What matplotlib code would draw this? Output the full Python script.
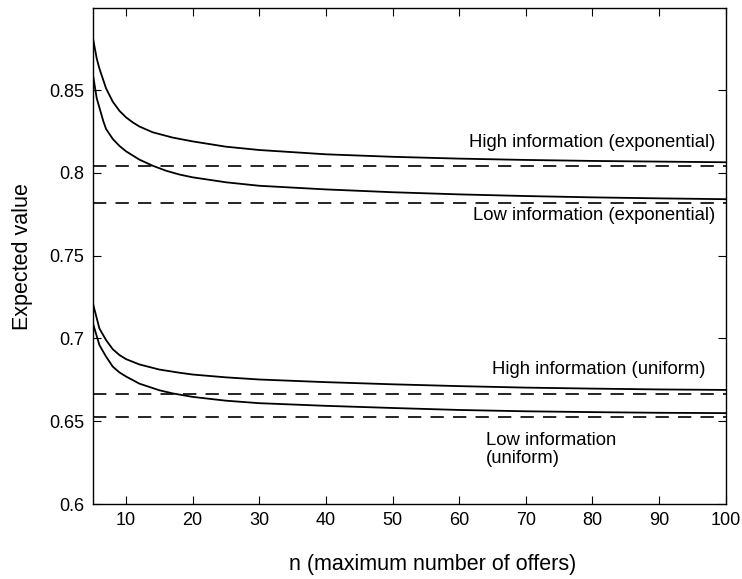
import matplotlib.pyplot as plt

plt.rcParams['font.family'] = ['Liberation Sans', 'DejaVu Sans']

# values
n_hi_exp = [5, 5.6, 6, 7, 8, 9, 10, 11, 12, 14, 17, 20, 25, 30, 40, 50, 60, 70, 80, 90, 100]
hi_exp = [0.882, 0.869, 0.863, 0.851, 0.843, 0.8375, 0.8335, 0.8305, 0.828, 0.8245, 0.8213,
          0.819, 0.8158, 0.8138, 0.8112, 0.8097, 0.8086, 0.8078, 0.8072, 0.8068, 0.8064]

n_lo_exp = [5, 5.6, 6.6, 7, 8, 9, 10, 12, 14, 16, 18, 20, 25, 30, 40, 50, 60, 70, 80, 90, 100]
lo_exp = [0.860, 0.845, 0.831, 0.8265, 0.8205, 0.8163, 0.813, 0.808, 0.8043, 0.8013, 0.799,
          0.7973, 0.7943, 0.7922, 0.7900, 0.7883, 0.7870, 0.7860, 0.7852, 0.7846, 0.7841]

n_hi_uni = [5, 6, 7, 8, 9, 10, 12, 15, 18, 20, 25, 30, 40, 50, 60, 70, 80, 90, 100]
hi_uni = [0.7215, 0.706, 0.699, 0.6935, 0.690, 0.6875, 0.6843, 0.6812, 0.6793, 0.6782,
          0.6765, 0.6752, 0.6736, 0.6723, 0.6712, 0.6703, 0.6697, 0.6692, 0.6689]

n_lo_uni = [5, 6, 7, 8, 9, 10, 12, 15, 17, 20, 25, 30, 40, 50, 60, 70, 80, 90, 100]
lo_uni = [0.7095, 0.696, 0.689, 0.683, 0.6795, 0.677, 0.6727, 0.6687, 0.6668, 0.6647,
          0.6624, 0.6609, 0.6593, 0.6580, 0.6568, 0.6560, 0.6555, 0.6551, 0.6549]

# limits (dashed)
lim_hi_exp = 0.804
lim_lo_exp = 0.7815
lim_hi_uni = 0.6664
lim_lo_uni = 0.6526

xticks = [10, 20, 30, 40, 50, 60, 70, 80, 90, 100]
yticks = [0.6, 0.65, 0.7, 0.75, 0.8, 0.85]
yticklabels = ['0.6', '0.65', '0.7', '0.75', '0.8', '0.85']

fig = plt.figure(figsize=(7.42, 5.79), dpi=100)
ax = fig.add_axes([0.125, 0.1295, 0.853, 0.8565])

for xs, ys in [(n_hi_exp, hi_exp), (n_lo_exp, lo_exp), (n_hi_uni, hi_uni), (n_lo_uni, lo_uni)]:
    ax.plot(xs, ys, color='black', lw=1.3)

for v in [lim_hi_exp, lim_lo_exp, lim_hi_uni, lim_lo_uni]:
    ax.plot([5, 100], [v, v], color='black', lw=1.2, dashes=(8, 5.5))

ax.text(98.4, 0.8186, 'High information (exponential)', ha='right', va='center', fontsize=13.3)
ax.text(98.4, 0.7740, 'Low information (exponential)', ha='right', va='center', fontsize=13.3)
ax.text(96.9, 0.6810, 'High information (uniform)', ha='right', va='center', fontsize=13.3)
ax.text(64.0, 0.6330, 'Low information\n(uniform)', ha='left', va='center', fontsize=13.3,
        linespacing=1.05)

ax.set_xlim(5, 100)
ax.set_ylim(0.6, 0.8995)
ax.set_xticks(xticks)
ax.set_yticks(yticks)
ax.set_yticklabels(yticklabels)
ax.tick_params(direction='in', top=True, right=True, length=6, labelsize=13, pad=6)
for s in ax.spines.values():
    s.set_linewidth(1.0)

ax.set_xlabel('n (maximum number of offers)', fontsize=15.5)
ax.xaxis.set_label_coords(0.537, -0.1)
ax.set_ylabel('Expected value', fontsize=15.5, labelpad=12)

fig.savefig('out.png', dpi=100)
